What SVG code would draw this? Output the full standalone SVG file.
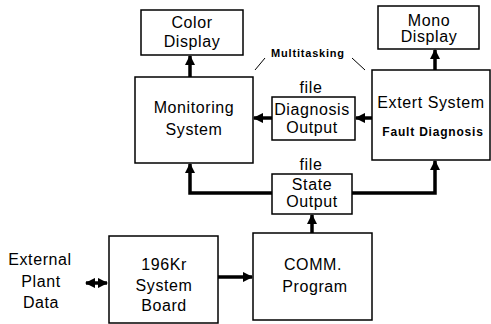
<svg xmlns="http://www.w3.org/2000/svg" width="491" height="324" viewBox="0 0 491 324">
<defs>
<style>
.box{fill:#fff;stroke:#000;stroke-width:1.5}
.t{font-family:"Liberation Sans",Arial,sans-serif;font-size:16px;fill:#000;text-anchor:middle;letter-spacing:0.6px}
.b{font-family:"Liberation Sans",Arial,sans-serif;font-size:11px;font-weight:bold;fill:#000;text-anchor:middle;letter-spacing:0.8px}
.c{fill:none;stroke:#000;stroke-width:3.5}
.thin{fill:none;stroke:#000;stroke-width:1}
</style>
<marker id="ah" viewBox="0 0 10 10" refX="9" refY="5" markerWidth="3" markerHeight="3" orient="auto-start-reverse" markerUnits="strokeWidth">
<path d="M0,0 L10,5 L0,10 Z" fill="#000"/>
</marker>
</defs>
<rect width="491" height="324" fill="#fff"/>
<g id="connectors">
<line class="c" x1="190" y1="77" x2="190" y2="56" marker-end="url(#ah)"/>
<line class="c" x1="435" y1="70" x2="435" y2="50" marker-end="url(#ah)"/>
<line class="c" x1="372" y1="118" x2="356" y2="118" marker-end="url(#ah)"/>
<line class="c" x1="272" y1="118" x2="254" y2="118" marker-end="url(#ah)"/>
<polyline class="c" points="272,193 190,193 190,164" marker-end="url(#ah)"/>
<polyline class="c" points="352,193 435,193 435,161" marker-end="url(#ah)"/>
<line class="c" x1="312" y1="233" x2="312" y2="215" marker-end="url(#ah)"/>
<line class="c" x1="218" y1="277" x2="252" y2="277" marker-end="url(#ah)"/>
<line class="c" x1="86" y1="283" x2="107" y2="283" marker-start="url(#ah)" marker-end="url(#ah)"/>
<line class="thin" x1="265" y1="58" x2="255" y2="70"/>
<line class="thin" x1="352" y1="58" x2="365" y2="70"/>
</g>
<g id="color-display">
<rect class="box" x="141" y="10" width="102" height="45"/>
<text class="t" x="192" y="28">Color</text>
<text class="t" x="192" y="47">Display</text>
</g>
<g id="mono-display">
<rect class="box" x="378" y="6" width="101" height="43"/>
<text class="t" x="429" y="26">Mono</text>
<text class="t" x="429" y="42">Display</text>
</g>
<g id="multitasking">
<text class="b" x="308" y="57">Multitasking</text>
</g>
<g id="monitoring-system">
<rect class="box" x="135" y="77" width="118" height="86"/>
<text class="t" x="194" y="113">Monitoring</text>
<text class="t" x="194" y="135">System</text>
</g>
<g id="diagnosis-output">
<text class="t" x="311" y="93">file</text>
<rect class="box" x="272" y="97" width="83" height="43"/>
<text class="t" x="312" y="115" letter-spacing="0.4">Diagnosis</text>
<text class="t" x="312" y="133">Output</text>
</g>
<g id="expert-system">
<rect class="box" x="372" y="70" width="118" height="90"/>
<text class="t" x="431" y="108" style="letter-spacing:0.6px">Extert System</text>
<text class="b" x="433" y="136" style="font-size:12px">Fault Diagnosis</text>
</g>
<g id="state-output">
<text class="t" x="311" y="170">file</text>
<rect class="box" x="272" y="174" width="80" height="40"/>
<text class="t" x="312" y="190">State</text>
<text class="t" x="312" y="207">Output</text>
</g>
<g id="board">
<rect class="box" x="109" y="236" width="109" height="87"/>
<text class="t" x="164" y="270">196Kr</text>
<text class="t" x="164" y="291">System</text>
<text class="t" x="164" y="311">Board</text>
</g>
<g id="comm-program">
<rect class="box" x="253" y="233" width="119" height="87"/>
<text class="t" x="313" y="270">COMM.</text>
<text class="t" x="315" y="292">Program</text>
</g>
<g id="external">
<text class="t" x="40" y="265">External</text>
<text class="t" x="41" y="287">Plant</text>
<text class="t" x="41" y="308">Data</text>
</g>
</svg>
